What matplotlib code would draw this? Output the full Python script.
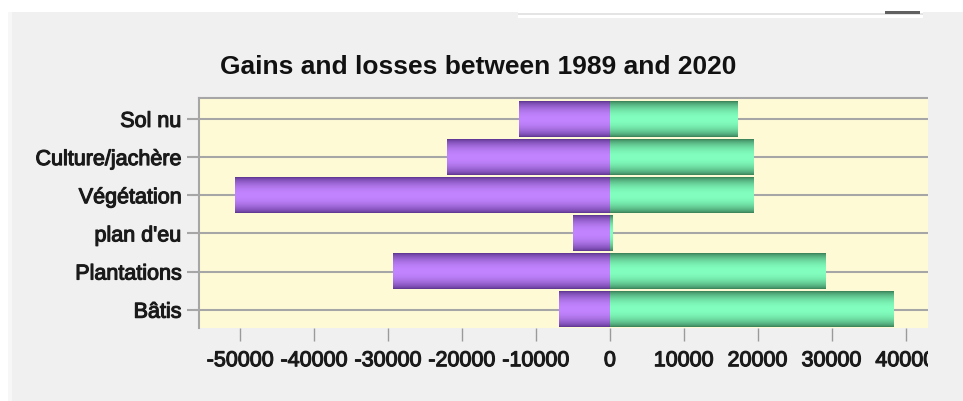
import numpy as np
import matplotlib
matplotlib.use('Agg')
import matplotlib.pyplot as plt
import matplotlib.patheffects as pe
from matplotlib.patches import Rectangle
from matplotlib.colors import to_rgb


categories = ['Sol nu', 'Culture/jachère', 'Végétation', "plan d'eu", 'Plantations', 'Bâtis']
losses = [-12270, -22060, -50780, -4970, -29360, -6860]
gains = [17230, 19390, 19390, 400, 29190, 38430]
xticks = [-50000, -40000, -30000, -20000, -10000, 0, 10000, 20000, 30000, 40000]
title = 'Gains and losses between 1989 and 2020'

plt.rcParams['font.family'] = ['Liberation Sans', 'DejaVu Sans']
plt.rcParams['axes.unicode_minus'] = False

W, H = 963, 401
fig = plt.figure(figsize=(W / 100, H / 100), dpi=100, facecolor='#f0f0f0')
ax = fig.add_axes([199.3 / W, (H - 328) / H, 728.4 / W, 229.7 / H])
ax.set_facecolor('#fffad6')


def gradient(dark, light):
    # vertical "cylinder" shading: dark at the edges, light in the middle
    t = np.linspace(0, 1, 64)
    w = np.sin(np.pi * t) ** 0.7
    d, l = np.array(to_rgb(dark)), np.array(to_rgb(light))
    return (d[None, :] + (l - d)[None, :] * w[:, None])[:, None, :]


y = np.arange(len(categories))[::-1]
for values, dark, light in [(losses, '#5e3590', '#c284ff'), (gains, '#3a8058', '#82ffbe')]:
    bars = ax.barh(y, values, height=0.93, color='none', edgecolor='none', zorder=3)
    grad = gradient(dark, light)
    for p in bars.patches:
        x0, y0, w, h = p.get_x(), p.get_y(), p.get_width(), p.get_height()
        ax.imshow(grad, extent=(x0, x0 + w, y0, y0 + h), aspect='auto',
                  interpolation='bilinear', zorder=2)

ax.set_xlim(-55575, 42990)
ax.set_ylim(-0.48, 5.54)
ax.set_yticks(y)
ax.set_yticklabels(categories)
ax.set_xticks(xticks)
ax.set_xticklabels([str(v) for v in xticks])

ax.set_axisbelow(True)
ax.yaxis.grid(True, color='#a6a6a6', linewidth=1.5)
for side in ['bottom', 'right']:
    ax.spines[side].set_visible(False)
for side in ['left', 'top']:
    ax.spines[side].set_color('#a6a6a6')
    ax.spines[side].set_linewidth(1.5)

ax.tick_params(axis='y', length=9, width=1.5, color='#a6a6a6', pad=4,
               labelsize=15.5, labelcolor='#1a1a1a')
ax.tick_params(axis='x', length=9, width=1, color='#9a9a9a', pad=7,
               labelsize=15.5, labelcolor='#1a1a1a')

# the screenshot's ClearType text is heavier than a plain regular face
heavy = [pe.withStroke(linewidth=0.8, foreground='#1a1a1a')]
for lbl in ax.get_xticklabels() + ax.get_yticklabels():
    lbl.set_path_effects(heavy)

fig.text(478 / W, 1 - 67 / H, title, ha='center', va='center',
         fontsize=19, fontweight='bold', color='#111111')

# window chrome around the chart control
def box(x, y0, w, h, color, z=5):
    fig.add_artist(Rectangle((x / W, 1 - (y0 + h) / H), w / W, h / H,
                             transform=fig.transFigure, facecolor=color,
                             edgecolor='none', zorder=z))


box(928, 12, 35, H - 12, '#f0f0f0')
box(0, 0, W, 12, 'white')
box(0, 0, 8, H, 'white')
box(8, 12, 4, H - 12, '#f7f7f7')
box(518, 0, 405, 18, 'white')
box(518, 13, 405, 2, '#e4e4e4', 6)
box(885, 11, 35, 3, '#606060', 7)

fig.savefig('out.png', dpi=100, facecolor=fig.get_facecolor())
